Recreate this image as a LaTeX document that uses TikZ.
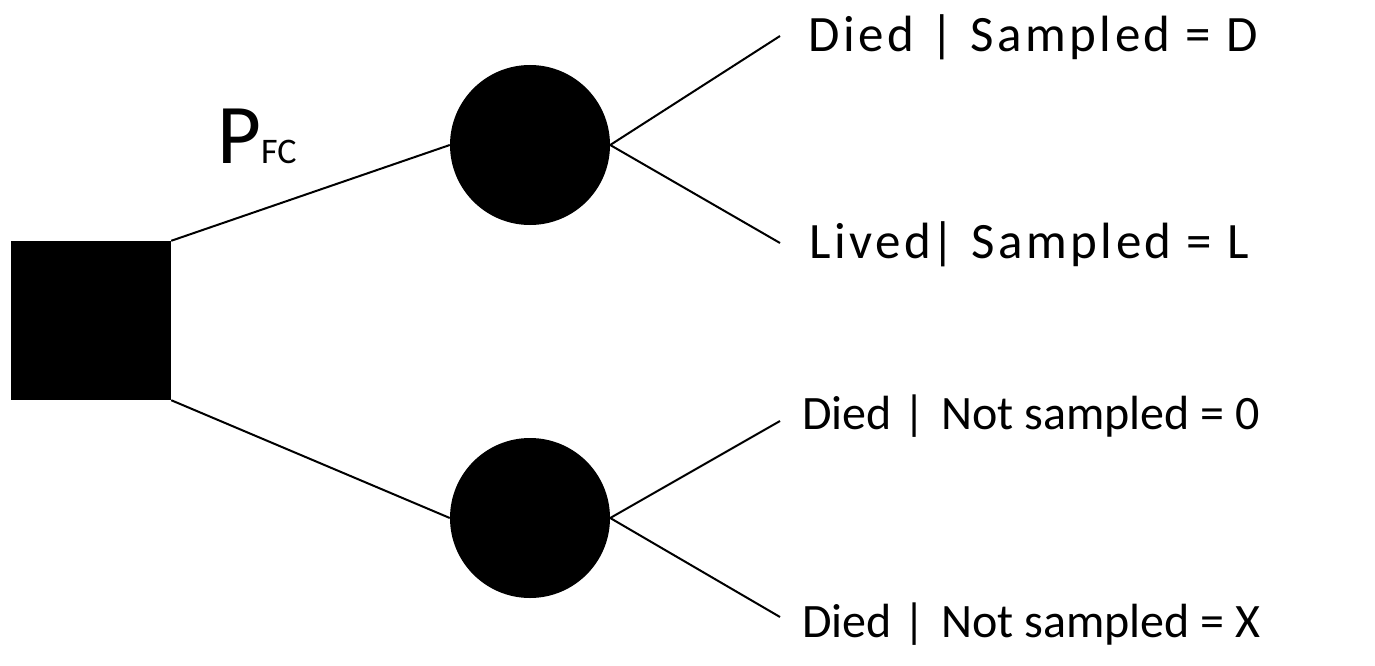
\documentclass[tikz,border=0pt]{standalone}
\usepackage{fontspec}
\setmainfont{Carlito}
\newfontfamily\widefont[LetterSpace=7]{Carlito}
\begin{document}
\begin{tikzpicture}[x=1pt,y=-1pt,
  link/.style={line width=2pt},
  decision/.style={rectangle, fill=black, minimum width=160pt, minimum height=159pt, inner sep=0pt},
  chance/.style={circle, fill=black, minimum size=160pt, inner sep=0pt},
  outcome/.style={anchor=base west, inner sep=0pt, font=\fontsize{48}{48}\selectfont},
  outcomewide/.style={anchor=base west, inner sep=0pt, font=\fontsize{51}{51}\selectfont\widefont},
  prob/.style={anchor=base west, inner sep=0pt, font=\fontsize{85}{85}\selectfont},
]
\useasboundingbox (0,0) rectangle (1375,666);

% decision node and the two chance nodes
\node[decision] (dec) at (91,320.5) {};
\node[chance] (c1) at (530,145) {};
\node[chance] (c2) at (530,518) {};

% free ends of the outcome branches
\coordinate (e1) at (780,36);
\coordinate (e2) at (780,243);
\coordinate (e3) at (780,421);
\coordinate (e4) at (780,617);

% branches
\draw[link] (dec.north east) -- (c1.west);
\draw[link] (dec.south east) -- (c2.west);
\draw[link] (c1.east) -- (e1);
\draw[link] (c1.east) -- (e2);
\draw[link] (c2.east) -- (e3);
\draw[link] (c2.east) -- (e4);

% branch probability
\node[prob] (pfc) at (217,163) {P{\fontsize{36}{36}\selectfont FC}};

% outcomes
\node[outcomewide] (o1) at (808,52)
  {\makebox[134pt][l]{Died}\makebox[0pt]{|}\hspace{28pt}Sampled = D};
\node[outcomewide] (o2) at (809,258)
  {\makebox[134pt][l]{Lived}\makebox[0pt]{|}\hspace{28pt}Sampled = L};
\node[outcome] (o3) at (802,429)
  {\makebox[112pt][l]{Died}\makebox[0pt]{|}\hspace{27pt}Not sampled = 0};
\node[outcome] (o4) at (802,637)
  {\makebox[112pt][l]{Died}\makebox[0pt]{|}\hspace{27pt}Not sampled = X};
\end{tikzpicture}
\end{document}
